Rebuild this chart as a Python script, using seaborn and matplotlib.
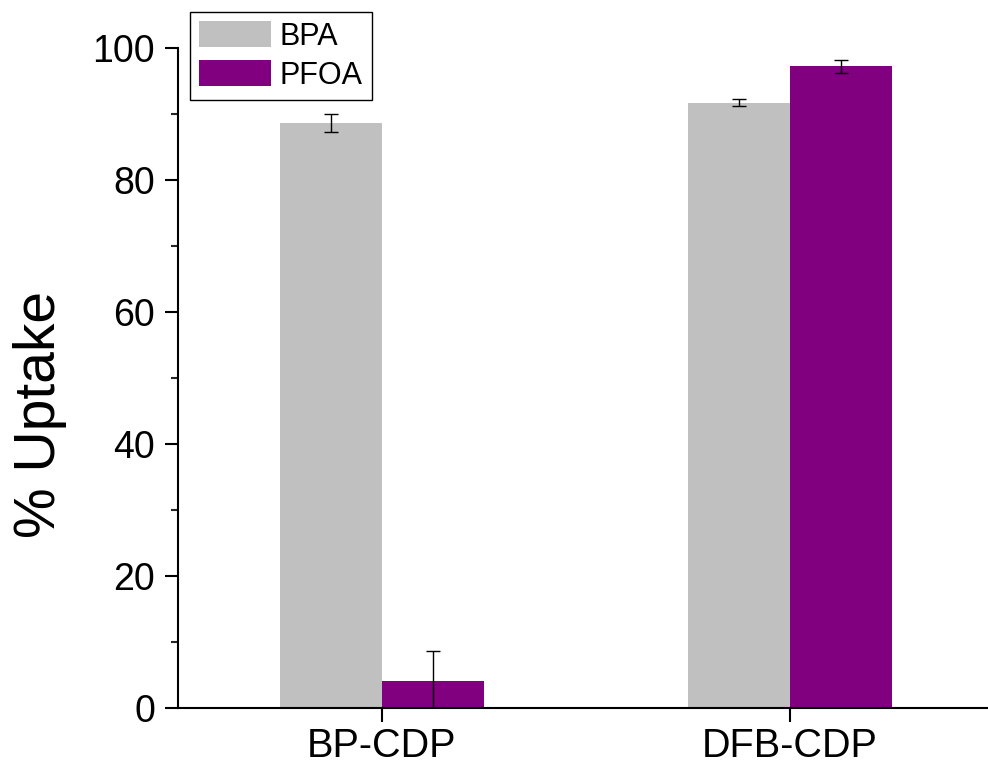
import numpy as np
import pandas as pd
import matplotlib
matplotlib.use('Agg')
import matplotlib.pyplot as plt
import seaborn as sns
from matplotlib.ticker import MultipleLocator

# values
materials = ['BP-CDP', 'DFB-CDP']
pollutants = ['BPA', 'PFOA']
bpa_uptake = [88.6, 91.7]
bpa_err = [1.4, 0.5]
pfoa_uptake = [4.1, 97.2]
pfoa_err = [4.5, 1.0]

colors = {'BPA': '#C0C0C0', 'PFOA': '#800080'}

df = pd.DataFrame({
    'material': materials * 2,
    'pollutant': ['BPA'] * 2 + ['PFOA'] * 2,
    'uptake': bpa_uptake + pfoa_uptake,
})
errs = {'BPA': bpa_err, 'PFOA': pfoa_err}

sns.set_theme(style='ticks')
plt.rcParams['font.family'] = ['Liberation Sans', 'DejaVu Sans']
plt.rcParams['text.color'] = 'black'
plt.rcParams['axes.labelcolor'] = 'black'

fig = plt.figure(figsize=(9.88, 7.65), dpi=100)
ax = fig.add_axes([0.180, 0.0745, 0.82, 0.8628])

sns.barplot(data=df, x='material', y='uptake', hue='pollutant',
            order=materials, hue_order=pollutants, palette=colors,
            errorbar=None, width=0.5, linewidth=0, saturation=1, ax=ax)

# error bars on top of each bar
for cont, name in zip(ax.containers, pollutants):
    xs = [b.get_x() + b.get_width() / 2 for b in cont]
    ys = [b.get_height() for b in cont]
    ax.errorbar(xs, ys, yerr=errs[name], fmt='none', ecolor='black',
                elinewidth=1.0, capsize=5, capthick=1.0, zorder=5)

ax.set_xlim(-0.5, 1.485)
ax.set_ylim(0, 100)
ax.yaxis.set_major_locator(MultipleLocator(20))
ax.yaxis.set_minor_locator(MultipleLocator(10))

for side in ['top', 'right']:
    ax.spines[side].set_visible(False)
for side in ['left', 'bottom']:
    ax.spines[side].set_linewidth(1.5)
    ax.spines[side].set_color('black')

ax.tick_params(axis='both', which='major', direction='out', width=1.5,
               colors='black')
ax.tick_params(axis='y', which='minor', direction='out', length=5, width=1.5)
ax.tick_params(axis='x', which='major', length=10, pad=4, labelsize=28.5)
ax.tick_params(axis='y', which='major', length=9.4, pad=7, labelsize=27)

ax.set_xlabel('')
ax.set_ylabel('% Uptake', fontsize=41)
ax.yaxis.set_label_coords(-0.137, 0.444)

handles, labels = ax.get_legend_handles_labels()
ax.legend(handles, labels, loc='upper left', bbox_to_anchor=(0.192, 0.984),
          bbox_transform=fig.transFigure, fontsize=22, frameon=True,
          fancybox=False, edgecolor='black', framealpha=1,
          handlelength=2.35, handleheight=0.92, handletextpad=0.3,
          labelspacing=0.28, borderpad=0.3, borderaxespad=0)
ax.get_legend().get_frame().set_linewidth(1.0)

fig.savefig('out.png', dpi=100)
